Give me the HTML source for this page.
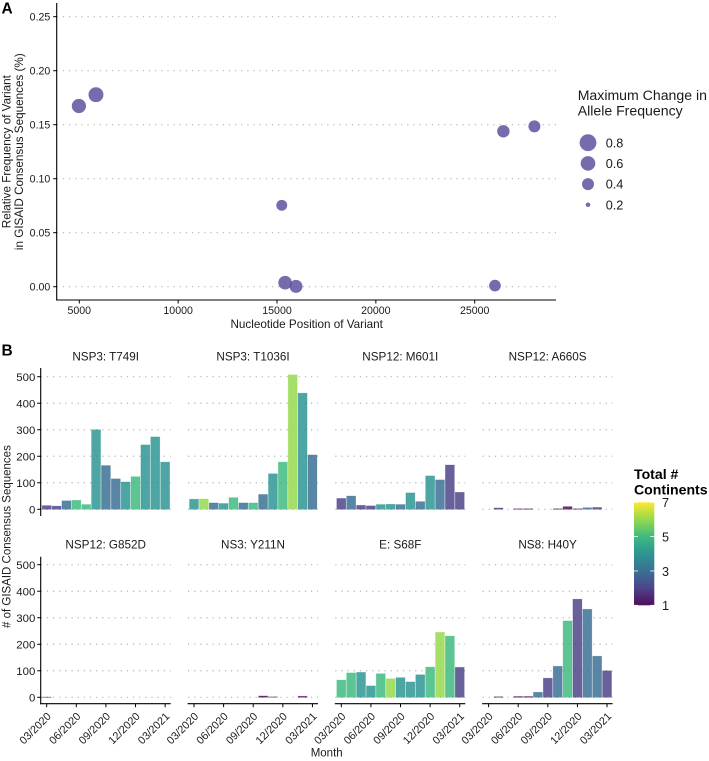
<!DOCTYPE html>
<html lang="en">
<head>
<meta charset="utf-8">
<title>Variant frequency chart</title>
<style>
html,body{margin:0;padding:0;background:#fff;}
svg{display:block;font-family:"Liberation Sans",Arial,sans-serif;}
</style>
</head>
<body>
<svg id="chart" xmlns="http://www.w3.org/2000/svg" width="709" height="761" viewBox="0 0 709 761">
<defs>
<linearGradient id="viridis" x1="0" y1="1" x2="0" y2="0">
<stop offset="0" stop-color="#440154"/>
<stop offset="0.1667" stop-color="#443A83"/>
<stop offset="0.3333" stop-color="#31688E"/>
<stop offset="0.5" stop-color="#21908C"/>
<stop offset="0.6667" stop-color="#35B779"/>
<stop offset="0.8333" stop-color="#8FD744"/>
<stop offset="1" stop-color="#FDE725"/>
</linearGradient>
</defs>
<text x="1.5" y="13.5" font-size="15.5" font-weight="bold" fill="#000">A</text>
<text x="1.5" y="355.5" font-size="15.5" font-weight="bold" fill="#000">B</text>
<text transform="translate(10.5,151.7) rotate(-90)" text-anchor="middle" font-size="11.7" fill="#1a1a1a">Relative Frequency of Variant</text>
<text transform="translate(23.2,151.7) rotate(-90)" text-anchor="middle" font-size="11.7" fill="#1a1a1a">in GISAID Consensus Sequences (%)</text>
<text x="306.7" y="328" text-anchor="middle" font-size="11.7" fill="#1a1a1a">Nucleotide Position of Variant</text>
<text x="577.7" y="100" font-size="14.1" fill="#1a1a1a">Maximum Change in</text>
<text x="577.7" y="115.5" font-size="14.1" fill="#1a1a1a">Allele Frequency</text>
<text transform="translate(10.5,536.6) rotate(-90)" text-anchor="middle" font-size="11.5" fill="#1a1a1a">#&#160;of GISAID Consensus Sequences</text>
<text x="326.7" y="756.5" text-anchor="middle" font-size="11.5" fill="#1a1a1a">Month</text>
<text x="634" y="479" font-size="14.1" font-weight="bold" fill="#000">Total #</text>
<text x="634" y="494.7" font-size="14.1" font-weight="bold" fill="#000">Continents</text>
<rect x="634" y="502.3" width="20.3" height="103" fill="url(#viridis)" opacity="0.95"/>
</svg>
<script>
// Panel A data
const scatterPositions = [4980, 5843, 15240, 15410, 15960, 26025, 26450, 28020];
const scatterFrequencies = [0.1673, 0.1778, 0.0754, 0.0037, 0.0003, 0.001, 0.1439, 0.1485];
const scatterChanges = [0.57, 0.63, 0.37, 0.52, 0.47, 0.39, 0.43, 0.4];
const scatterXTicks = [5000, 10000, 15000, 20000, 25000];
const scatterYTicks = [0, 0.05, 0.1, 0.15, 0.2, 0.25];
const scatterYLabels = ['0.00', '0.05', '0.10', '0.15', '0.20', '0.25'];
const legendChanges = [0.8, 0.6, 0.4, 0.2];
const legendLabels = ['0.8', '0.6', '0.4', '0.2'];

// Panel B data
const monthTickLabels = ['03/2020', '06/2020', '09/2020', '12/2020', '03/2021'];
const monthTickIndexes = [0, 3, 6, 9, 12];
const countTicks = [0, 100, 200, 300, 400, 500];
const facetNames = ['NSP3: T749I', 'NSP3: T1036I', 'NSP12: M601I', 'NSP12: A660S', 'NSP12: G852D', 'NS3: Y211N', 'E: S68F', 'NS8: H40Y'];
const countsT749I = [14, 12, 32, 34, 18, 300, 165, 115, 103, 123, 243, 273, 178];
const continentsT749I = [2, 2, 3, 5, 5, 4, 3, 3, 4, 5, 4, 4, 4];
const countsT1036I = [38, 39, 24, 22, 44, 24, 24, 56, 134, 178, 507, 438, 205];
const continentsT1036I = [4, 6, 3, 4, 5, 3, 5, 3, 4, 5, 6, 4, 3];
const countsM601I = [41, 50, 15, 13, 18, 19, 18, 62, 29, 126, 111, 167, 64];
const continentsM601I = [2, 3, 2, 2, 4, 4, 3, 4, 3, 4, 3, 2, 2];
const countsA660S = [0, 5, 0, 2, 2, 0, 0, 2, 10, 2, 6, 7, 0];
const continentsA660S = [1, 2, 1, 1, 1, 1, 1, 1, 1, 1, 3, 2, 1];
const countsG852D = [1, 0, 0, 0, 0, 0, 0, 0, 0, 0, 0, 0, 0];
const continentsG852D = [1, 1, 1, 1, 1, 1, 1, 1, 1, 1, 1, 1, 1];
const countsY211N = [0, 0, 0, 0, 0, 0, 0, 5, 2, 0, 0, 4, 0];
const continentsY211N = [1, 1, 1, 1, 1, 1, 1, 1, 2, 1, 1, 1, 1];
const countsS68F = [65, 92, 94, 43, 89, 70, 74, 58, 85, 114, 245, 231, 113];
const continentsS68F = [5, 5, 4, 4, 5, 6, 4, 4, 4, 5, 6, 5, 2];
const countsH40Y = [0, 2, 0, 3, 3, 19, 72, 117, 288, 370, 332, 155, 100];
const continentsH40Y = [1, 1, 1, 1, 1, 3, 2, 3, 5, 2, 3, 3, 2];
const facetCounts = [countsT749I, countsT1036I, countsM601I, countsA660S, countsG852D, countsY211N, countsS68F, countsH40Y];
const facetContinents = [continentsT749I, continentsT1036I, continentsM601I, continentsA660S, continentsG852D, continentsY211N, continentsS68F, continentsH40Y];
const viridisColors = ['#440154', '#443A83', '#31688E', '#21908C', '#35B779', '#8FD744', '#FDE725'];
const colorbarTicks = [1, 3, 5, 7];

const svg = document.getElementById('chart');
const NS = 'http://www.w3.org/2000/svg';
const GRID = '#b4b4b4';
const POINT = '#5A4E9C';

function mk(tag, attrs, parent) {
  const el = document.createElementNS(NS, tag);
  for (const k in attrs) el.setAttribute(k, attrs[k]);
  (parent || svg).appendChild(el);
  return el;
}

// Axis functions
function scatterX(v) { return 79.3 + (v - 5000) * 0.01977; }
function scatterY(v) { return 286.7 - v * 1080; }
function sizeScale(v) { return v < 0.4 ? 2.3 + (v - 0.2) * 18.5 : Math.sqrt(86.5 * v + 1.4); }
function facetLeft(col) { return 40.7 + col * 147.3; }
function monthX(col, i) { return facetLeft(col) + 6 + i * 9.87; }
function countY(row, v) { return (row === 0 ? 509.3 : 697.3) - v * 0.2652; }
function colorbarY(v) { return 605.3 - (v - 1) * (103 / 6); }

// Panel A
const panelA = mk('g', {});



scatterYTicks.forEach(function (t, i) {
  const y = scatterY(t);
  const grid = mk('line', { x1: 56.7, x2: 556, y1: y, y2: y, stroke: GRID, 'stroke-width': 1.2, 'stroke-dasharray': '1.2 4.95' }, panelA);
  
  
  const tick = mk('line', { x1: 53.2, x2: 56.7, y1: y, y2: y, stroke: '#000', 'stroke-width': 1 }, panelA);
  
  
  const label = mk('text', { x: 50.3, y: y + 3.9, 'text-anchor': 'end', 'font-size': 10.6, fill: '#1a1a1a' }, panelA);
  
  
  label.textContent = scatterYLabels[i];
});

scatterXTicks.forEach(function (t) {
  const x = scatterX(t);
  const tick = mk('line', { x1: x, x2: x, y1: 300, y2: 303.5, stroke: '#000', 'stroke-width': 1 }, panelA);
  
  
  const label = mk('text', { x: x, y: 314, 'text-anchor': 'middle', 'font-size': 10.6, fill: '#1a1a1a' }, panelA);
  
  
  label.textContent = String(t);
});

const scatterYAxis = mk('line', { x1: 56.7, x2: 56.7, y1: 3, y2: 300.5, stroke: '#000', 'stroke-width': 1.1 }, panelA);


const scatterXAxis = mk('line', { x1: 56.2, x2: 556, y1: 300, y2: 300, stroke: '#000', 'stroke-width': 1.1 }, panelA);



scatterPositions.forEach(function (p, i) {
  const c = mk('circle', { cx: scatterX(p), cy: scatterY(scatterFrequencies[i]), r: sizeScale(scatterChanges[i]), fill: POINT, 'fill-opacity': 0.83 }, panelA);
  
  
});

legendChanges.forEach(function (v, i) {
  const y = 142.7 + i * 20.7;
  const c = mk('circle', { cx: 588, cy: y, r: sizeScale(v), fill: POINT, 'fill-opacity': 0.83 });
  
  
  const t = mk('text', { x: 605.7, y: y + 4.6, 'font-size': 12.7, fill: '#1a1a1a' });
  
  
  t.textContent = legendLabels[i];
});

// Panel B
facetNames.forEach(function (name, f) {
  const row = f < 4 ? 0 : 1;
  const col = f % 4;
  const left = facetLeft(col);
  const g = mk('g', {});
  
  

  const title = mk('text', { x: left + 65, y: row === 0 ? 360.7 : 548.7, 'text-anchor': 'middle', 'font-size': 11.7, fill: '#1a1a1a' }, g);
  
  
  title.textContent = name;

  countTicks.forEach(function (t) {
    const y = countY(row, t);
    const grid = mk('line', { x1: left, x2: left + 130, y1: y, y2: y, stroke: GRID, 'stroke-width': 1.2, 'stroke-dasharray': '1.2 4.95' }, g);
    
    
    if (col === 0) {
      const tick = mk('line', { x1: left - 3.5, x2: left, y1: y, y2: y, stroke: '#000', 'stroke-width': 1 }, g);
      
      
      const label = mk('text', { x: 35.3, y: y + 4.1, 'text-anchor': 'end', 'font-size': 11.4, fill: '#1a1a1a' }, g);
      
      
      label.textContent = String(t);
    }
  });

  facetCounts[f].forEach(function (v, i) {
    if (v <= 0) return;
    const x = monthX(col, i);
    const top = countY(row, v);
    const base = countY(row, 0);
    const r = mk('rect', { x: x - 4.5, y: top, width: 9, height: Math.max(base - top, 0.3), fill: viridisColors[facetContinents[f][i] - 1], 'fill-opacity': 0.8, stroke: viridisColors[facetContinents[f][i] - 1], 'stroke-opacity': 0.35, 'stroke-width': 0.7 }, g);
    
    
  });

  if (col === 0) {
    const yAxis = mk('line', { x1: left, x2: left, y1: row === 0 ? 368 : 556.7, y2: row === 0 ? 516 : 704.2, stroke: '#000', 'stroke-width': 1.1 }, g);
    
    
  }

  if (row === 1) {
    const xAxis = mk('line', { x1: left - 0.5, x2: left + 130, y1: 703.7, y2: 703.7, stroke: '#000', 'stroke-width': 1.1 }, g);
    
    
    monthTickIndexes.forEach(function (m, i) {
      const x = monthX(col, m);
      const tick = mk('line', { x1: x, x2: x, y1: 703.7, y2: 707.2, stroke: '#000', 'stroke-width': 1 }, g);
      
      
      const label = mk('text', { transform: 'translate(' + (x + 5) + ',717) rotate(-45)', 'text-anchor': 'end', 'font-size': 10.9, fill: '#1a1a1a' }, g);
      
      
      label.textContent = monthTickLabels[i];
    });
  }
});

// Colorbar ticks
colorbarTicks.forEach(function (v) {
  const y = colorbarY(v);
  const t1 = mk('line', { x1: 634, x2: 638, y1: y, y2: y, stroke: '#fff', 'stroke-width': 0.8 });
  
  
  const t2 = mk('line', { x1: 650.3, x2: 654.3, y1: y, y2: y, stroke: '#fff', 'stroke-width': 0.8 });
  
  
  const label = mk('text', { x: 662, y: y + 4.8, 'font-size': 12.7, fill: '#1a1a1a' });
  
  
  label.textContent = String(v);
});
</script>
</body>
</html>
